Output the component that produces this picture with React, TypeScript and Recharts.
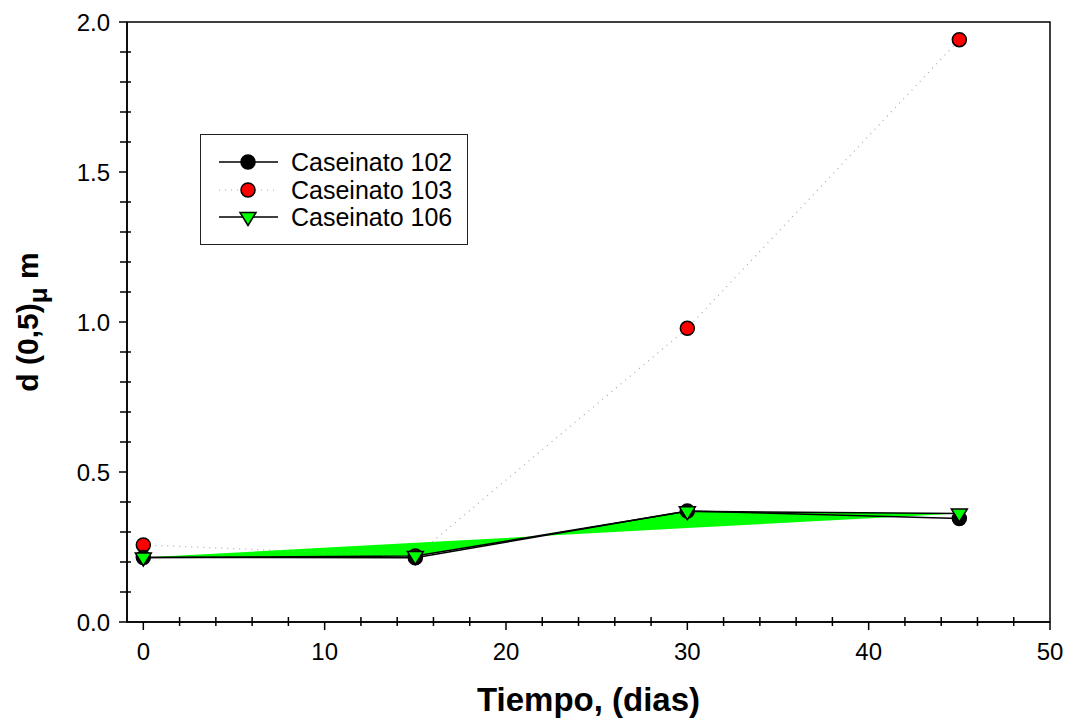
import React from 'react';
import { ComposedChart, Line, Area, XAxis, YAxis, ReferenceArea, Legend } from 'recharts';

// values
const days = [0, 15, 30, 45];
const caseinato102 = [0.215, 0.214, 0.37, 0.345];
const caseinato103 = [0.257, 0.22, 0.979, 1.941];
const caseinato106 = [0.215, 0.22, 0.369, 0.362];
// closing edge of the green fill drawn with Caseinato 106
const fill106Edge = [0.215, 0.264, 0.313, 0.362];

const xTicks = [0, 2, 4, 6, 8, 10, 12, 14, 16, 18, 20, 22, 24, 26, 28, 30, 32, 34, 36, 38, 40, 42, 44, 46, 48, 50];
const yTicks = [0, 0.1, 0.2, 0.3, 0.4, 0.5, 0.6, 0.7, 0.8, 0.9, 1.0, 1.1, 1.2, 1.3, 1.4, 1.5, 1.6, 1.7, 1.8, 1.9, 2.0];

const data = days.map((t, i) => ({
  t,
  c102: caseinato102[i],
  c103: caseinato103[i],
  c106: caseinato106[i],
  band: [caseinato106[i], fill106Edge[i]],
}));

const FONT = '"Liberation Sans", Arial, Helvetica, sans-serif';

const XTick = (props: any) => {
  const { x, y, payload } = props;
  const v = payload.value;
  const major = v % 10 === 0;
  return (
    <g>
      <line x1={x} x2={x} y1={major ? y : y - 5} y2={major ? y + 8 : y + 4} stroke="#000" strokeWidth={1.5} />
      {major && (
        <text x={x} y={y + 38} textAnchor="middle" fontSize={24} fontFamily={FONT} fill="#000">
          {v}
        </text>
      )}
    </g>
  );
};

const YTick = (props: any) => {
  const { x, y, payload } = props;
  const v = payload.value;
  const major = Math.abs(v * 2 - Math.round(v * 2)) < 1e-6;
  return (
    <g>
      <line x1={major ? x - 8 : x - 7} x2={major ? x : x + 4} y1={y} y2={y} stroke="#000" strokeWidth={1.5} />
      {major && (
        <text x={x - 17} y={y + 8.5} textAnchor="end" fontSize={24} fontFamily={FONT} fill="#000">
          {v.toFixed(1)}
        </text>
      )}
    </g>
  );
};

const XTitle = (props: any) => {
  const { x, y, width } = props.viewBox;
  return (
    <text x={x + width / 2} y={y + 89} textAnchor="middle" fontSize={33} fontWeight="bold" fontFamily={FONT} fill="#000">
      Tiempo, (dias)
    </text>
  );
};

const YTitle = (props: any) => {
  const { y, height } = props.viewBox;
  return (
    <text
      transform={`translate(38, ${y + height / 2}) rotate(-90)`}
      textAnchor="middle"
      fontSize={30}
      fontWeight="bold"
      fontFamily={FONT}
      fill="#000"
    >
      d (0,5)
      <tspan dy={9} fontSize={26}>μ</tspan>
      <tspan dy={-9}> m</tspan>
    </text>
  );
};

const Circle = (color: string) => (props: any) => {
  const { cx, cy, index } = props;
  if (cx == null || cy == null) return <g key={index} />;
  return <circle key={index} cx={cx} cy={cy} r={7} fill={color} stroke="#000" strokeWidth={1.5} />;
};

const TriangleDown = (props: any) => {
  const { cx, cy, index } = props;
  if (cx == null || cy == null) return <g key={index} />;
  return (
    <polygon
      key={index}
      points={`${cx - 8},${cy - 4.5} ${cx + 8},${cy - 4.5} ${cx},${cy + 8.5}`}
      fill="#00ff00"
      stroke="#000"
      strokeWidth={1.5}
    />
  );
};

const legendRows = [
  { name: 'Caseinato 102', kind: 'circle', color: '#000', dash: undefined as string | undefined, line: '#000' },
  { name: 'Caseinato 103', kind: 'circle', color: '#ff0000', dash: '1 5', line: '#aaa' },
  { name: 'Caseinato 106', kind: 'tri', color: '#00ff00', dash: undefined, line: '#000' },
];

const renderLegend = () => (
  <div
    style={{
      width: 266,
      height: 109,
      border: '1.5px solid #222',
      background: '#fff',
      fontFamily: FONT,
      fontSize: 25,
      position: 'relative',
    }}
  >
    {legendRows.map((r, i) => (
      <div key={r.name} style={{ position: 'absolute', left: 0, top: 13 + i * 27.5, height: 28, display: 'flex', alignItems: 'center' }}>
        <svg width={90} height={28} style={{ display: 'block' }}>
          <line x1={18} x2={77} y1={14} y2={14} stroke={r.line} strokeWidth={r.dash ? 1.2 : 1.5} strokeDasharray={r.dash} />
          {r.kind === 'circle' ? (
            <circle cx={47} cy={14} r={7} fill={r.color} stroke="#000" strokeWidth={1.5} />
          ) : (
            <polygon points="39,9.5 55,9.5 47,22.5" fill={r.color} stroke="#000" strokeWidth={1.5} />
          )}
        </svg>
        <span style={{ whiteSpace: 'nowrap', color: '#000', lineHeight: '28px' }}>{r.name}</span>
      </div>
    ))}
  </div>
);

export default function App() {
  return (
    <div style={{ position: 'absolute', left: 0, top: 0, width: 1070, height: 719, background: '#fff' }}>
      <ComposedChart width={1070} height={719} data={data} margin={{ top: 22, right: 20, left: 0, bottom: 0 }}>
        <XAxis
          dataKey="t"
          type="number"
          domain={[-0.9, 50]}
          ticks={xTicks}
          interval={0}
          tickSize={0}
          tickMargin={0}
          tickLine={false}
          axisLine={{ stroke: '#000', strokeWidth: 1.5 }}
          tick={<XTick />}
          height={97}
          allowDataOverflow
          label={{ content: XTitle }}
        />
        <YAxis
          type="number"
          domain={[0, 2]}
          ticks={yTicks}
          interval={0}
          tickSize={0}
          tickMargin={0}
          tickLine={false}
          axisLine={{ stroke: '#000', strokeWidth: 1.5 }}
          tick={<YTick />}
          width={127}
          allowDataOverflow
          label={{ content: YTitle }}
        />
        <ReferenceArea x1={-0.9} x2={50} y1={0} y2={2} fill="none" stroke="#000" strokeWidth={1.5} fillOpacity={0} />
        <Line
          dataKey="c103"
          type="linear"
          stroke="#aaa"
          strokeWidth={1.2}
          strokeDasharray="1 5"
          dot={Circle('#ff0000')}
          activeDot={false}
          isAnimationActive={false}
        />
        <Area
          dataKey="band"
          type="linear"
          stroke="none"
          fill="#00ff00"
          fillOpacity={1}
          dot={false}
          activeDot={false}
          isAnimationActive={false}
        />
        <Line
          dataKey="c102"
          type="linear"
          stroke="#000"
          strokeWidth={1.5}
          dot={Circle('#000')}
          activeDot={false}
          isAnimationActive={false}
        />
        <Line
          dataKey="c106"
          type="linear"
          stroke="#000"
          strokeWidth={1.5}
          dot={TriangleDown}
          activeDot={false}
          isAnimationActive={false}
        />
        <Legend
          layout="horizontal"
          align="center"
          verticalAlign="middle"
          content={renderLegend}
          wrapperStyle={{ left: 200, top: 134, width: 269, height: 112 }}
        />
      </ComposedChart>
    </div>
  );
}
